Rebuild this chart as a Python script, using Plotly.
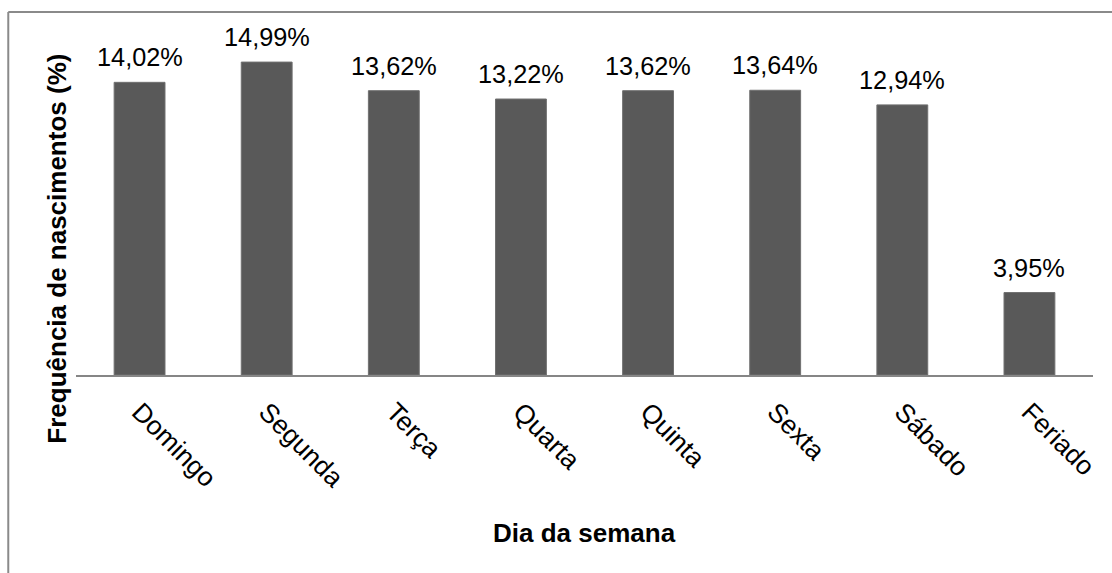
import plotly.graph_objects as go

# Births by day of week (%)
dias = ["Domingo", "Segunda", "Terça", "Quarta", "Quinta", "Sexta", "Sábado", "Feriado"]
frequencia = [14.02, 14.99, 13.62, 13.22, 13.62, 13.64, 12.94, 3.95]
rotulos = ["14,02%", "14,99%", "13,62%", "13,22%", "13,62%", "13,64%", "12,94%", "3,95%"]

W, H = 1112, 573
ML, MR, MT, MB = 76, 15, 41, 197.5
YMAX = 16
FONT = "Liberation Sans, Arial, sans-serif"

pw = W - ML - MR
ph = H - MT - MB

fig = go.Figure(
    go.Bar(
        x=dias,
        y=frequencia,
        width=0.4,
        marker=dict(color="#595959", line=dict(color="#707070", width=1)),
        hoverinfo="skip",
    )
)

# value labels above each bar
for d, v, t in zip(dias, frequencia, rotulos):
    fig.add_annotation(
        x=d, y=v, text=t, showarrow=False,
        yanchor="bottom", yshift=9,
        font=dict(family=FONT, size=25.3, color="#000000"),
    )

# axis titles
fig.add_annotation(
    xref="paper", yref="paper", x=0.5, y=0, yanchor="middle", xanchor="center",
    yshift=-157.5, showarrow=False, text="<b>Dia da semana</b>",
    font=dict(family=FONT, size=26, color="#000000"),
)
fig.add_annotation(
    xref="paper", yref="paper", x=0, y=(MT + ph - 249) / ph,
    xanchor="center", yanchor="middle", xshift=57 - ML, textangle=-90,
    showarrow=False, text="<b>Frequência de nascimentos (%)</b>",
    font=dict(family=FONT, size=26, color="#000000"),
)

# outer frame (top and left edges)
fx = (8 - ML) / pw
fy = (MT + ph - 12) / ph
fig.add_shape(type="line", xref="paper", yref="paper", x0=fx, x1=(W - ML) / pw + 0.01,
              y0=fy, y1=fy, line=dict(color="#8a8a8a", width=2))
fig.add_shape(type="line", xref="paper", yref="paper", x0=fx, x1=fx,
              y0=fy, y1=-(MB + 5) / ph, line=dict(color="#8a8a8a", width=2))

fig.update_layout(
    width=W, height=H,
    margin=dict(l=ML, r=MR, t=MT, b=MB, pad=0),
    paper_bgcolor="white", plot_bgcolor="white",
    showlegend=False,
    bargap=0.6,
    font=dict(family=FONT, color="#000000"),
)
fig.update_xaxes(
    showline=True, linecolor="#868686", linewidth=1.5,
    ticks="", tickangle=45, ticklabelstandoff=9,
    tickfont=dict(family=FONT, size=26.5, color="#000000"),
    showgrid=False, zeroline=False,
)
fig.update_yaxes(
    range=[0, YMAX], visible=False, showgrid=False, zeroline=False,
)

fig.write_html("out.html", config={"displayModeBar": False})
